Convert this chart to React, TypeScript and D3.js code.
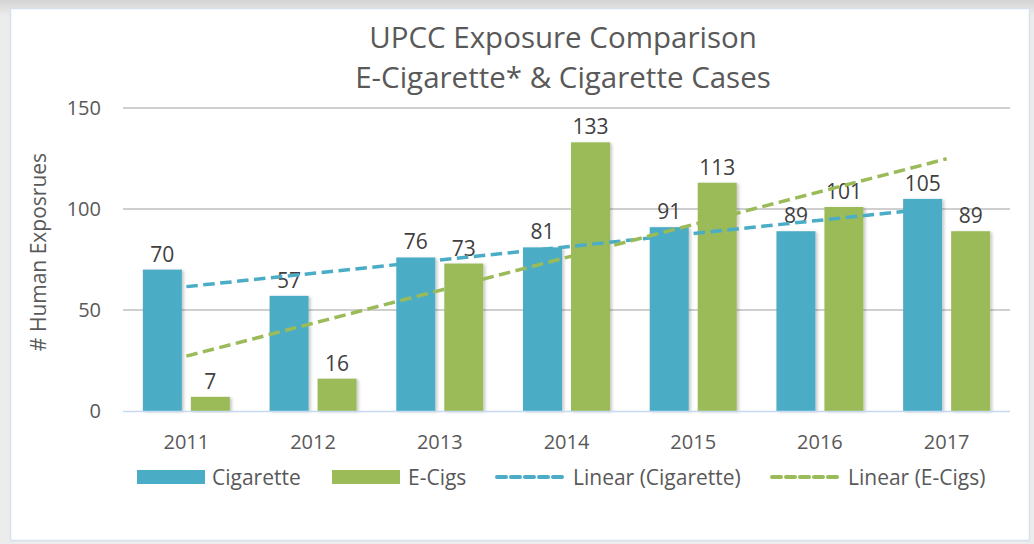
import React from "react";
import * as d3 from "d3";

const years = ["2011", "2012", "2013", "2014", "2015", "2016", "2017"];
const cigarette = [70, 57, 76, 81, 91, 89, 105];
const ecigs = [7, 16, 73, 133, 113, 101, 89];
const yTicks = [0, 50, 100, 150];
const titleLines = ["UPCC Exposure Comparison", "E-Cigarette* & Cigarette Cases"];
const yAxisTitle = "# Human Exposrues";
const legendItems = ["Cigarette", "E-Cigs", "Linear (Cigarette)", "Linear (E-Cigs)"];

const W = 1034;
const H = 544;
const CIG = "#4bacc6";
const ECIG = "#9bbb59";
const FONT = "'Open Sans', Lato, sans-serif";

function linearFit(vals: number[]) {
  const xs = vals.map((_, i) => i + 1);
  const mx = d3.mean(xs)!;
  const my = d3.mean(vals)!;
  let sxy = 0, sxx = 0;
  xs.forEach((x, i) => { sxy += (x - mx) * (vals[i] - my); sxx += (x - mx) ** 2; });
  const b = sxy / sxx;
  const a = my - b * mx;
  return (x: number) => a + b * x;
}

export default function App() {
  const left = 123, right = 1010, top = 108, bottom = 411;
  const x = d3.scaleBand<string>().domain(years).range([left, right]).paddingInner(0).paddingOuter(0);
  const y = d3.scaleLinear().domain([0, 150]).range([bottom, top]);
  const step = x.bandwidth();
  const barW = 39;
  const gap = 9;

  const series = [
    { name: "Cigarette", vals: cigarette, color: CIG, off: -gap / 2 - barW },
    { name: "E-Cigs", vals: ecigs, color: ECIG, off: gap / 2 },
  ];

  const trends = [
    { fit: linearFit(cigarette), color: CIG },
    { fit: linearFit(ecigs), color: ECIG },
  ];

  const center = (i: number) => x(years[i])! + step / 2;

  return (
    <div style={{ position: "absolute", left: 0, top: 0 }}>
      <svg width={W} height={H} style={{ display: "block" }} fontFamily={FONT}>
        <defs>
          <linearGradient id="bg" x1="0" y1="0" x2="0" y2="1">
            <stop offset="0" stopColor="#d4d4d4" />
            <stop offset="0.03" stopColor="#ececec" />
            <stop offset="1" stopColor="#ececec" />
          </linearGradient>
          <filter id="shadow" x="-20%" y="-5%" width="150%" height="115%">
            <feDropShadow dx="2" dy="1" stdDeviation="1.5" floodColor="#000" floodOpacity="0.22" />
          </filter>
        </defs>
        <rect x={0} y={0} width={W} height={H} fill="url(#bg)" />
        <rect x={10.5} y={8.5} width={1019} height={532} fill="#ffffff" stroke="#d5e1ee" strokeWidth={1.5} />

        {titleLines.map((t, i) => (
          <text key={t} x={563} y={48 + i * 40} textAnchor="middle" fontSize={29.5} fill="#595959">
            {t}
          </text>
        ))}

        {yTicks.map((t) => (
          <g key={t}>
            {t > 0 && <line x1={left} x2={right} y1={y(t)} y2={y(t)} stroke="#bfbfbf" strokeWidth={1.5} />}
            <text x={101} y={y(t) + 7} textAnchor="end" fontSize={20} fill="#595959">
              {t}
            </text>
          </g>
        ))}

        <text transform={`translate(46,${252}) rotate(-90)`} textAnchor="middle" fontSize={21} fill="#595959">
          {yAxisTitle}
        </text>

        {series.map((s) =>
          s.vals.map((v, i) => (
            <rect
              key={s.name + i}
              x={center(i) + s.off}
              y={y(v)}
              width={barW}
              height={bottom - y(v)}
              fill={s.color}
              filter="url(#shadow)"
            />
          ))
        )}

        <line x1={left} x2={right} y1={bottom + 0.5} y2={bottom + 0.5} stroke="#c6d9f1" strokeWidth={1.5} />

        {series.map((s) =>
          s.vals.map((v, i) => (
            <text
              key={"l" + s.name + i}
              x={center(i) + s.off + barW / 2}
              y={y(v) - 8}
              textAnchor="middle"
              fontSize={21}
              fill="#404040"
            >
              {v}
            </text>
          ))
        )}

        {trends.map((t, k) => (
          <path
            key={k}
            d={d3.line<number>().x((d) => center(d - 1)).y((d) => y(t.fit(d)))([1, 7])!}
            fill="none"
            stroke={t.color}
            strokeWidth={3.5}
            strokeDasharray="11.5 5.5"
          />
        ))}

        {years.map((yr) => (
          <text key={yr} x={x(yr)! + step / 2} y={449} textAnchor="middle" fontSize={20} fill="#595959">
            {yr}
          </text>
        ))}

        <g fontSize={21} fill="#595959">
          <rect x={137} y={470} width={68} height={14} fill={CIG} />
          <text x={212} y={484.5}>{legendItems[0]}</text>
          <rect x={332} y={470} width={68} height={14} fill={ECIG} />
          <text x={408} y={484.5}>{legendItems[1]}</text>
          <line x1={497} x2={565} y1={477} y2={477} stroke={CIG} strokeWidth={4} strokeDasharray="9 5" strokeLinecap="round" />
          <text x={573} y={484.5}>{legendItems[2]}</text>
          <line x1={772} x2={840} y1={477} y2={477} stroke={ECIG} strokeWidth={4} strokeDasharray="9 5" strokeLinecap="round" />
          <text x={848} y={484.5}>{legendItems[3]}</text>
        </g>
      </svg>
    </div>
  );
}
